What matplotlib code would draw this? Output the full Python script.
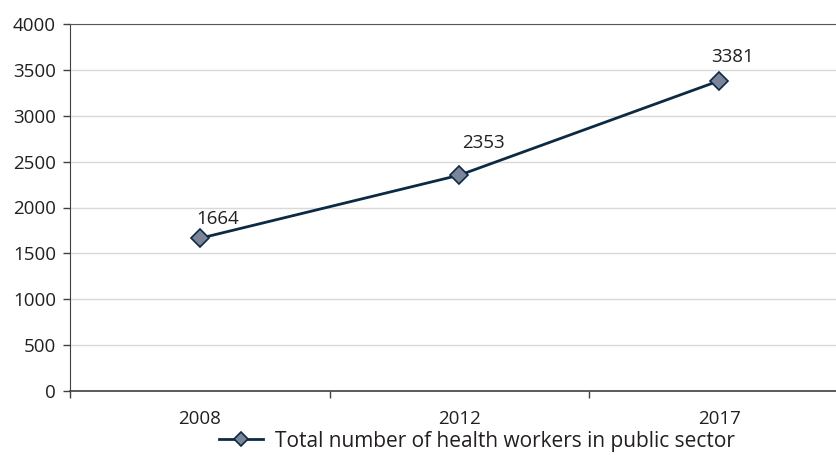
import matplotlib.pyplot as plt
from matplotlib.ticker import MultipleLocator, FixedLocator

plt.rcParams['font.family'] = ['Open Sans', 'DejaVu Sans']

years = ['2008', '2012', '2017']
workers = [1664, 2353, 3381]
series_name = 'Total number of health workers in public sector'

# label offsets (points) as placed in the original
label_offsets = [(13, 14), (17, 23), (9.5, 17)]

line_col = '#0c2a44'
marker_col = '#7b8499'
txt_col = '#231f20'

fig = plt.figure(figsize=(8.37, 4.62), dpi=100)
ax = fig.add_axes([70 / 837, 1 - 391 / 462, 779 / 837, 367 / 462])

x = list(range(len(years)))
ax.plot(x, workers, color=line_col, linewidth=2, marker='D', markersize=9.5,
        markerfacecolor=marker_col, markeredgecolor=line_col, markeredgewidth=1.2,
        label=series_name, zorder=3)

for xi, v, off in zip(x, workers, label_offsets):
    ax.annotate(str(v), (xi, v), xytext=off, textcoords='offset points',
                ha='center', va='center', fontsize=13.5, color=txt_col)

ax.set_xlim(-0.5, len(years) - 0.5)
ax.set_ylim(0, 4000)
ax.yaxis.set_major_locator(MultipleLocator(500))
ax.set_xticks(x)
ax.set_xticklabels(years)
ax.xaxis.set_minor_locator(FixedLocator([i - 0.5 for i in range(len(years) + 1)]))
ax.tick_params(axis='x', which='major', length=0, pad=14, labelsize=13.5, labelcolor=txt_col)
ax.tick_params(axis='x', which='minor', length=5, width=1, color='#404040', direction='out')
ax.tick_params(axis='y', length=5, width=1, color='#404040', pad=5, labelsize=13.5, labelcolor=txt_col)

ax.grid(axis='y', color='#d9d9d9', linewidth=1)
ax.set_axisbelow(True)
ax.spines['right'].set_visible(False)
ax.spines['top'].set_color('#595959')
ax.spines['left'].set_color('#404040')
ax.spines['bottom'].set_color('#404040')
ax.spines['bottom'].set_linewidth(1.2)

fig.legend(loc='center', bbox_to_anchor=(477 / 837, 1 - 441 / 462), frameon=False,
           fontsize=15, handlelength=2.1, handletextpad=0.6, markerscale=0.8,
           labelcolor=txt_col)

fig.savefig('out.png', dpi=100)
